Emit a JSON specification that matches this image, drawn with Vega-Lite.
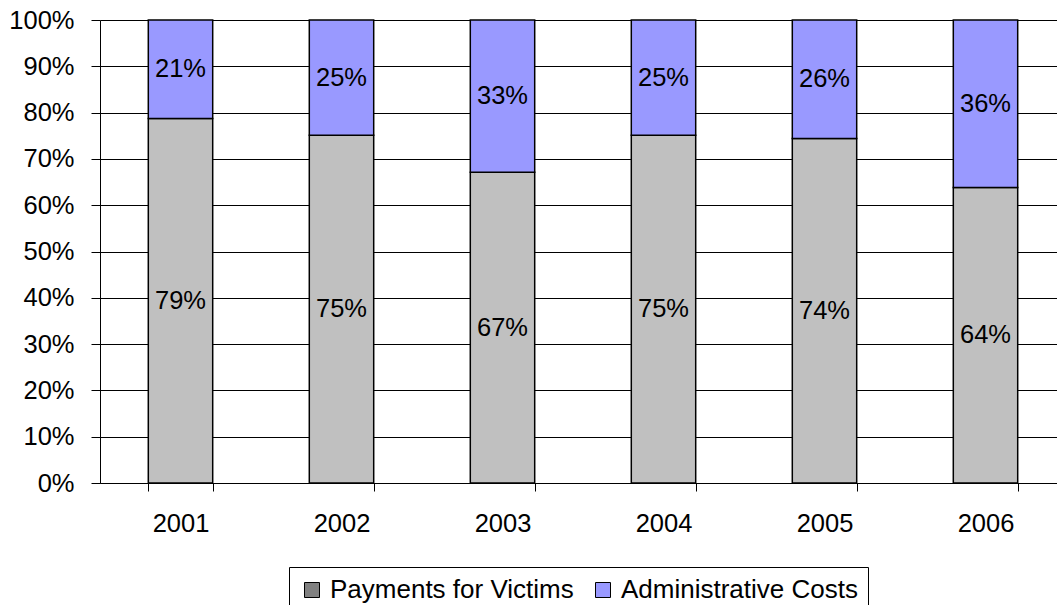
{
  "$schema": "https://vega.github.io/schema/vega-lite/v6.json",
  "width": 957,
  "height": 463,
  "autosize": {"type": "none"},
  "padding": {"left": 100, "top": 20, "right": 0, "bottom": 122},
  "background": "white",
  "config": {"view": {"stroke": null}, "font": "Liberation Sans"},
  "data": {
    "values": [
      {"year": "2001", "series": "Payments for Victims", "share": 0.787},
      {"year": "2001", "series": "Administrative Costs", "share": 0.213},
      {"year": "2002", "series": "Payments for Victims", "share": 0.751},
      {"year": "2002", "series": "Administrative Costs", "share": 0.249},
      {"year": "2003", "series": "Payments for Victims", "share": 0.671},
      {"year": "2003", "series": "Administrative Costs", "share": 0.329},
      {"year": "2004", "series": "Payments for Victims", "share": 0.751},
      {"year": "2004", "series": "Administrative Costs", "share": 0.249},
      {"year": "2005", "series": "Payments for Victims", "share": 0.744},
      {"year": "2005", "series": "Administrative Costs", "share": 0.256},
      {"year": "2006", "series": "Payments for Victims", "share": 0.638},
      {"year": "2006", "series": "Administrative Costs", "share": 0.362}
    ]
  },
  "transform": [
    {"stack": "share", "groupby": ["year"], "sort": [{"field": "series", "order": "descending"}], "as": ["y0", "y1"]},
    {"calculate": "(datum.y0 + datum.y1) / 2", "as": "ymid"}
  ],
  "encoding": {
    "x": {
      "field": "year",
      "type": "ordinal",
      "scale": {"range": [0, 966], "paddingInner": 0.6, "paddingOuter": 0.3},
      "axis": {
        "title": null,
        "labelAngle": 0,
        "tickBand": "extent",
        "domainColor": "black",
        "tickColor": "black",
        "tickSize": 8,
        "labelFontSize": 25.5,
        "labelColor": "black",
        "labelPadding": 20,
        "grid": false
      }
    }
  },
  "layer": [
    {
      "mark": {"type": "bar", "stroke": "black", "strokeWidth": 1.5},
      "encoding": {
        "y": {
          "field": "y0",
          "type": "quantitative",
          "scale": {"domain": [0, 1], "nice": false},
          "axis": {
            "title": null,
            "format": ".0%",
            "values": [0, 0.1, 0.2, 0.3, 0.4, 0.5, 0.6, 0.7, 0.8, 0.9, 1],
            "grid": true,
            "gridColor": "black",
            "gridOpacity": 1,
            "gridWidth": 1,
            "domainColor": "black",
            "tickColor": "black",
            "tickSize": 9,
            "labelFontSize": 25.5,
            "labelColor": "black",
            "labelPadding": 17
          }
        },
        "y2": {"field": "y1"},
        "fill": {
          "field": "series",
          "type": "nominal",
          "scale": {"range": ["#9999FF", "#C0C0C0"]},
          "legend": null
        }
      }
    },
    {
      "mark": {"type": "text", "fontSize": 25.5, "color": "black", "align": "center", "baseline": "middle"},
      "encoding": {
        "y": {"field": "ymid", "type": "quantitative"},
        "text": {"field": "share", "type": "quantitative", "format": ".0%"}
      }
    },
    {
      "mark": {"type": "square", "opacity": 0, "size": 225},
      "encoding": {
        "y": {"field": "ymid", "type": "quantitative"},
        "color": {
          "field": "series",
          "type": "nominal",
          "scale": {"domain": ["Payments for Victims", "Administrative Costs"], "range": ["#808080", "#9999FF"]},
          "legend": {
            "orient": "none",
            "legendX": 189,
            "legendY": 547,
            "direction": "horizontal",
            "title": null,
            "strokeColor": "black",
            "fillColor": "white",
            "padding": 10,
            "symbolType": "square",
            "symbolSize": 225,
            "symbolStrokeColor": "black",
            "symbolStrokeWidth": 1,
            "symbolOpacity": 1,
            "labelFontSize": 26,
            "labelColor": "black",
            "labelLimit": 500,
            "labelOffset": 5,
            "columnPadding": 16
          }
        }
      }
    }
  ]
}
